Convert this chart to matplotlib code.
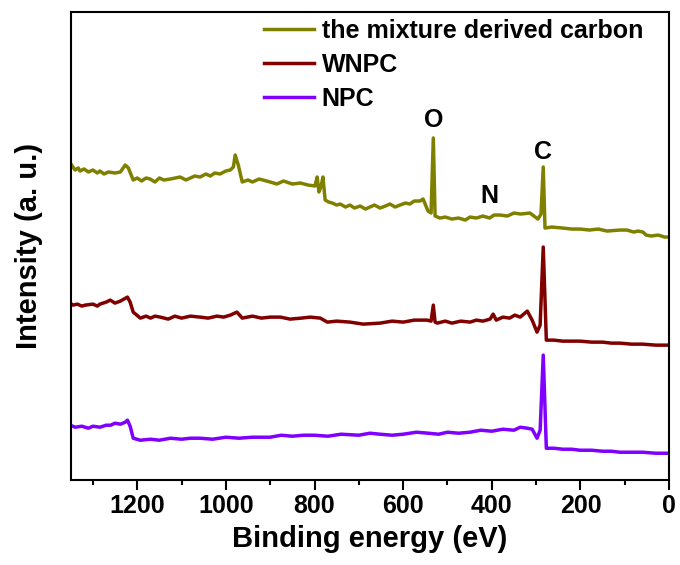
import matplotlib
matplotlib.use("Agg")
import matplotlib.pyplot as plt
from matplotlib.ticker import MultipleLocator

plt.rcParams['font.family'] = ['Liberation Sans', 'DejaVu Sans']
plt.rcParams['font.weight'] = 'bold'

# binding energy (eV) / intensity (a.u., offset stacked)
mix_e = [1351, 1345, 1340, 1333, 1329, 1320, 1310, 1300, 1290, 1284, 1275, 1265, 1250,
         1238, 1227, 1220, 1209, 1200, 1190, 1180, 1171, 1160, 1150, 1140, 1125,
         1103, 1090, 1080, 1070, 1058, 1045, 1035, 1025, 1013, 1000, 990, 983, 979,
         972, 963, 950, 940, 925, 900, 885, 870, 850, 832, 815,
         799, 794, 790, 785, 781, 776, 768, 760, 750, 742, 730, 720, 710, 697, 685,
         675, 665, 652, 640, 630, 618, 607, 595, 585, 575, 562, 555, 544, 537, 532,
         528, 517, 505, 490, 475, 460, 449, 435, 420, 405, 395, 381, 365, 350, 335,
         314, 296, 289, 284, 280, 265, 240, 220, 201, 180, 160, 140, 111, 95, 80,
         70, 59, 52, 40, 25, 10, 0]
mix_i = [317, 313, 310, 312, 309, 311, 308, 310, 307, 309, 306, 308, 307,
         308, 315, 312, 300, 302, 299, 302, 301, 298, 302, 300, 301,
         303, 300, 302, 304, 303, 306, 304, 307, 306, 309, 310, 313, 325,
         315, 298, 300, 298, 301, 298, 296, 299, 296, 297, 295,
         294, 303, 288, 294, 303, 280, 278, 277, 275, 276, 273, 275, 272, 274, 271,
         273, 275, 272, 274, 276, 273, 275, 277, 276, 279, 279, 281, 269, 267, 342,
         264, 262, 263, 261, 262, 260, 263, 262, 264, 262, 265, 265, 264, 267, 266,
         267, 261, 266, 313, 252, 253, 252, 251, 251, 250, 251, 249, 250, 250, 248,
         249, 248, 245, 244, 245, 243, 243]

wnpc_e = [1351, 1345, 1335, 1325, 1317, 1300, 1290, 1284, 1270, 1261, 1250, 1238,
          1230, 1222, 1216, 1209, 1193, 1180, 1170, 1160, 1148, 1130, 1115, 1100,
          1080, 1058, 1040, 1020, 1005, 990, 975, 963, 940, 920, 900, 877, 855, 830,
          810, 787, 771, 750, 720, 690, 652, 625, 600, 575, 546, 537, 532, 528, 523,
          505, 490, 470, 449, 435, 420, 404, 397, 390, 375, 360, 348, 336, 320, 309,
          298, 291, 284, 277, 260, 240, 220, 201, 175, 150, 130, 111, 85, 60, 30, 0]
wnpc_i = [177, 175, 176, 174, 175, 176, 174, 176, 178, 180, 177, 179,
          181, 183, 178, 168, 162, 164, 162, 164, 163, 161, 164, 162,
          164, 163, 162, 164, 163, 165, 168, 162, 164, 162, 163, 163, 161, 162,
          163, 162, 158, 159, 158, 156, 157, 159, 158, 160, 160, 159, 175, 158, 157,
          159, 157, 159, 158, 160, 159, 161, 166, 160, 163, 162, 165,
          163, 169, 160, 148, 155, 233, 140, 140, 139, 139, 139, 138, 138, 137, 137,
          136, 136, 135, 135]

npc_e = [1351, 1340, 1325, 1310, 1300, 1284, 1270, 1260, 1250, 1238, 1227, 1222,
         1216, 1209, 1193, 1170, 1150, 1125, 1100, 1080, 1058, 1030, 1000, 970, 940,
         900, 875, 850, 825, 800, 770, 740, 700, 675, 652, 625, 600, 570, 543, 520,
         500, 475, 449, 425, 400, 375, 350, 336, 320, 309, 298, 291, 284, 277, 260,
         240, 220, 201, 175, 150, 130, 111, 85, 60, 30, 0]
npc_i = [55, 53, 54, 52, 54, 53, 55, 55, 57, 56, 58, 60,
         54, 42, 40, 41, 40, 42, 41, 42, 42, 41, 43, 42, 43,
         43, 45, 44, 45, 45, 44, 46, 45, 47, 46, 45, 46, 48, 47, 46,
         48, 47, 48, 50, 49, 51, 50, 53, 52, 51, 42, 50, 125, 32, 32,
         31, 31, 30, 30, 29, 29, 28, 28, 28, 27, 27]

series = [
    ("the mixture derived carbon", mix_e, mix_i, "#808000"),
    ("WNPC", wnpc_e, wnpc_i, "#800000"),
    ("NPC", npc_e, npc_i, "#8000ff"),
]

# peak labels: (text, energy, height)
peak_labels = [("O", 532, 360), ("N", 406, 284), ("C", 284, 328)]


def main():
    fig = plt.figure(figsize=(6.8, 5.65), dpi=100)
    ax = fig.add_axes([0.104, 0.150, 0.880, 0.829])

    for name, e, i, c in series:
        ax.plot(e, i, color=c, lw=2.5, label=name)

    for txt, e, h in peak_labels:
        ax.text(e, h, txt, ha="center", va="center", fontsize=18, fontweight="bold")

    ax.set_xlim(1350, 0)
    ax.set_ylim(0, 468)
    ax.xaxis.set_major_locator(MultipleLocator(200))
    ax.xaxis.set_minor_locator(MultipleLocator(100))
    ax.set_yticks([])
    ax.tick_params(axis="x", which="major", length=7, width=1.5, labelsize=18, pad=3)
    ax.tick_params(axis="x", which="minor", length=3.5, width=1.5)
    for s in ax.spines.values():
        s.set_linewidth(1.5)

    ax.set_xlabel("Binding energy (eV)", fontsize=21, fontweight="bold", labelpad=5)
    ax.set_ylabel("Intensity (a. u.)", fontsize=21, fontweight="bold", labelpad=20)

    ax.legend(loc="upper left", bbox_to_anchor=(0.323, 0.985), frameon=False,
              fontsize=18, borderpad=0, borderaxespad=0, handlelength=2.0,
              handletextpad=0.3, labelspacing=0.4)

    fig.savefig("out.png", dpi=100)


if __name__ == "__main__":
    main()
